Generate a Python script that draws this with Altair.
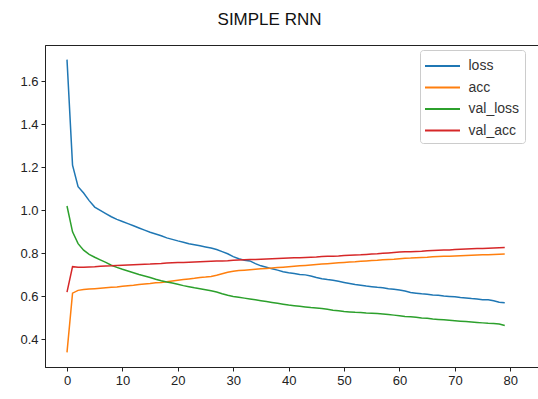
import altair as alt
import pandas as pd

epochs = list(range(80))

loss = [1.700, 1.210, 1.110, 1.080, 1.045, 1.015, 1.000, 0.985, 0.970, 0.958,
        0.948, 0.938, 0.928, 0.918, 0.908, 0.898, 0.890, 0.882, 0.872, 0.865,
        0.858, 0.852, 0.845, 0.840, 0.835, 0.830, 0.825, 0.818, 0.808, 0.798,
        0.785, 0.775, 0.768, 0.765, 0.752, 0.742, 0.735, 0.728, 0.722, 0.715,
        0.710, 0.706, 0.702, 0.700, 0.695, 0.688, 0.682, 0.678, 0.675, 0.670,
        0.665, 0.660, 0.655, 0.652, 0.648, 0.645, 0.642, 0.640, 0.636, 0.633,
        0.630, 0.625, 0.618, 0.615, 0.612, 0.610, 0.607, 0.605, 0.602, 0.600,
        0.598, 0.595, 0.593, 0.590, 0.588, 0.585, 0.584, 0.580, 0.573, 0.570]

acc = [0.340, 0.615, 0.628, 0.632, 0.634, 0.636, 0.638, 0.640, 0.642, 0.644,
       0.647, 0.650, 0.652, 0.655, 0.658, 0.660, 0.663, 0.665, 0.668, 0.672,
       0.675, 0.678, 0.681, 0.684, 0.688, 0.690, 0.693, 0.698, 0.705, 0.712,
       0.717, 0.720, 0.722, 0.724, 0.726, 0.728, 0.730, 0.732, 0.734, 0.736,
       0.738, 0.740, 0.742, 0.744, 0.746, 0.748, 0.750, 0.752, 0.754, 0.756,
       0.758, 0.760, 0.761, 0.763, 0.765, 0.767, 0.768, 0.770, 0.772, 0.773,
       0.775, 0.777, 0.778, 0.780, 0.781, 0.782, 0.784, 0.785, 0.786, 0.787,
       0.788, 0.789, 0.790, 0.791, 0.792, 0.793, 0.794, 0.795, 0.796, 0.797]

val_loss = [1.020, 0.900, 0.845, 0.815, 0.795, 0.782, 0.770, 0.758, 0.745, 0.735,
            0.726, 0.718, 0.710, 0.702, 0.695, 0.688, 0.680, 0.673, 0.667, 0.662,
            0.656, 0.650, 0.645, 0.640, 0.636, 0.631, 0.626, 0.620, 0.612, 0.605,
            0.600, 0.596, 0.592, 0.588, 0.584, 0.580, 0.576, 0.572, 0.568, 0.564,
            0.560, 0.557, 0.554, 0.551, 0.548, 0.546, 0.544, 0.540, 0.536, 0.533,
            0.530, 0.528, 0.526, 0.525, 0.523, 0.522, 0.520, 0.518, 0.516, 0.513,
            0.510, 0.507, 0.505, 0.503, 0.500, 0.498, 0.495, 0.493, 0.491, 0.489,
            0.487, 0.485, 0.483, 0.481, 0.479, 0.477, 0.475, 0.474, 0.472, 0.465]

val_acc = [0.620, 0.738, 0.735, 0.736, 0.737, 0.738, 0.740, 0.741, 0.742, 0.744,
           0.745, 0.746, 0.747, 0.748, 0.749, 0.750, 0.752, 0.753, 0.755, 0.756,
           0.757, 0.758, 0.759, 0.760, 0.761, 0.762, 0.763, 0.764, 0.765, 0.766,
           0.768, 0.769, 0.770, 0.771, 0.772, 0.773, 0.774, 0.775, 0.776, 0.777,
           0.778, 0.779, 0.780, 0.781, 0.782, 0.783, 0.785, 0.786, 0.787, 0.788,
           0.790, 0.791, 0.792, 0.793, 0.795, 0.797, 0.798, 0.800, 0.802, 0.804,
           0.806, 0.807, 0.808, 0.809, 0.810, 0.812, 0.813, 0.814, 0.815, 0.816,
           0.818, 0.819, 0.820, 0.821, 0.822, 0.823, 0.824, 0.825, 0.826, 0.827]

series_names = ["loss", "acc", "val_loss", "val_acc"]
series_colors = ["#1f77b4", "#ff7f0e", "#2ca02c", "#d62728"]
x_ticks = [0, 10, 20, 30, 40, 50, 60, 70, 80]
y_ticks = [0.4, 0.6, 0.8, 1.0, 1.2, 1.4, 1.6]

rows = []
for name, vals in zip(series_names, [loss, acc, val_loss, val_acc]):
    for e, v in zip(epochs, vals):
        rows.append({"epoch": e, "value": v, "series": name})
df = pd.DataFrame(rows)

chart = alt.Chart(df).mark_line(strokeWidth=1.5).encode(
    x=alt.X("epoch:Q", scale=alt.Scale(domain=[-3.97, 85.0], nice=False, zero=False),
            axis=alt.Axis(values=x_ticks, format="d", title=None)),
    y=alt.Y("value:Q", scale=alt.Scale(domain=[0.272, 1.768], nice=False, zero=False),
            axis=alt.Axis(values=y_ticks, format=".1f", title=None)),
    color=alt.Color("series:N", scale=alt.Scale(domain=series_names, range=series_colors),
                    sort=series_names,
                    legend=alt.Legend(title=None, orient="none", legendX=375, legendY=5)),
).properties(
    width=493, height=322,
    title=alt.TitleParams("SIMPLE RNN", fontSize=17, font="Liberation Sans",
                          fontWeight="normal", anchor="middle", dx=-22, offset=16,
                          color="#111"),
    autosize=alt.AutoSizeParams(type="none"),
    padding={"left": 45, "top": 45, "right": 0, "bottom": 32},
).configure_view(
    stroke="#222", strokeWidth=1
).configure_axis(
    grid=False, domainColor="#222", tickColor="#222", tickSize=4,
    labelFont="Liberation Sans", labelFontSize=13, labelColor="#222", labelPadding=3
).configure_legend(
    symbolType="M-1.75,0H1.75", symbolStrokeWidth=2, symbolSize=400,
    symbolOffset=6.5,
    labelFont="Liberation Sans", labelFontSize=14, labelColor="#333",
    strokeColor="#ccc", fillColor="white", cornerRadius=3, padding=5,
    rowPadding=3.5, labelOffset=15
)

chart.save("out.html", embed_options={"renderer": "svg", "actions": False})
